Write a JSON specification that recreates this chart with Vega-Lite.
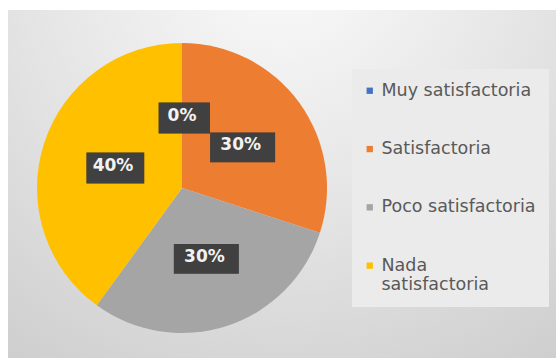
{
  "$schema": "https://vega.github.io/schema/vega-lite/v6.json",
  "width": 548,
  "height": 348,
  "autosize": {"type": "none"},
  "padding": {"left": 8, "top": 10, "right": 0, "bottom": 0},
  "background": "white",
  "config": {
    "view": {
      "stroke": null,
      "fill": {
        "gradient": "radial",
        "x1": 0.5, "y1": 0.08, "r1": 0,
        "x2": 0.5, "y2": 0.08, "r2": 0.95,
        "stops": [
          {"offset": 0, "color": "#fbfbfb"},
          {"offset": 0.55, "color": "#e2e2e2"},
          {"offset": 1, "color": "#cbcbcb"}
        ]
      }
    },
    "legend": {
      "orient": "none",
      "legendX": 344,
      "legendY": 59,
      "title": null,
      "symbolType": "square",
      "symbolSize": 40,
      "symbolStrokeColor": null,
      "labelFont": "DejaVu Sans",
      "labelFontSize": 17.5,
      "labelColor": "#595959",
      "labelOffset": 3,
      "labelLimit": 300,
      "fillColor": "#ebebeb",
      "padding": 13,
      "rowPadding": 39.3,
      "symbolOffset": -4
    }
  },
  "data": {
    "values": [
      {"categoria": "Muy satisfactoria", "valor": 0},
      {"categoria": "Satisfactoria", "valor": 0.3},
      {"categoria": "Poco satisfactoria", "valor": 0.3},
      {"categoria": "Nada satisfactoria", "valor": 0.4}
    ]
  },
  "transform": [
    {
      "window": [
        {"op": "row_number", "as": "orden"},
        {"op": "sum", "field": "valor", "as": "acum"}
      ],
      "frame": [null, 0]
    },
    {"joinaggregate": [{"op": "sum", "field": "valor", "as": "total"}]},
    {"calculate": "2 * PI * (datum.acum - datum.valor / 2) / datum.total", "as": "angulo"},
    {"calculate": "0.5 * sin(datum.angulo)", "as": "lx"},
    {"calculate": "0.5 * cos(datum.angulo)", "as": "ly"}
  ],
  "layer": [
    {
      "mark": {"type": "arc", "radius": 145, "stroke": null},
      "encoding": {
        "x": {"datum": 0, "type": "quantitative", "scale": {"domain": [-1.2, 2.5793], "nice": false, "zero": false}, "axis": null},
        "y": {"datum": 0, "type": "quantitative", "scale": {"domain": [-1.1724, 1.2276], "nice": false, "zero": false}, "axis": null},
        "theta": {"field": "valor", "type": "quantitative", "stack": true},
        "order": {"field": "orden", "type": "quantitative"},
        "color": {
          "field": "categoria",
          "type": "nominal",
          "scale": {
            "domain": ["Muy satisfactoria", "Satisfactoria", "Poco satisfactoria", "Nada satisfactoria"],
            "range": ["#4472c4", "#ed7d31", "#a5a5a5", "#ffc000"]
          },
          "legend": {
            "labelExpr": "datum.label == 'Nada satisfactoria' ? ['Nada', 'satisfactoria'] : datum.label",
            "symbolOpacity": 1
          }
        }
      }
    },
    {
      "mark": {"type": "point", "filled": true, "size": 4225, "color": "#000000", "opacity": 0.25},
      "encoding": {
        "x": {"field": "lx", "type": "quantitative"},
        "y": {"field": "ly", "type": "quantitative"},
        "shape": {
          "field": "orden",
          "type": "nominal",
          "scale": {
            "domain": [1, 2, 3, 4],
            "range": [
              "M-0.72,-0.40H0.86V0.55H-0.72Z",
              "M-0.94,-0.40H1.06V0.52H-0.94Z",
              "M-0.94,-0.40H1.06V0.52H-0.94Z",
              "M-0.82,-0.40H0.96V0.55H-0.82Z"
            ]
          },
          "legend": null
        }
      }
    },
    {
      "mark": {"type": "point", "filled": true, "size": 4225, "color": "#404040", "opacity": 1},
      "encoding": {
        "x": {"field": "lx", "type": "quantitative"},
        "y": {"field": "ly", "type": "quantitative"},
        "shape": {"field": "orden", "type": "nominal", "legend": null}
      }
    },
    {
      "mark": {
        "type": "text",
        "font": "DejaVu Sans",
        "fontWeight": "bold",
        "fontSize": 17,
        "fill": "#f2f2f2",
        "align": "center",
        "baseline": "middle"
      },
      "encoding": {
        "x": {"field": "lx", "type": "quantitative"},
        "y": {"field": "ly", "type": "quantitative"},
        "text": {"field": "valor", "type": "quantitative", "format": ".0%"}
      }
    }
  ]
}
